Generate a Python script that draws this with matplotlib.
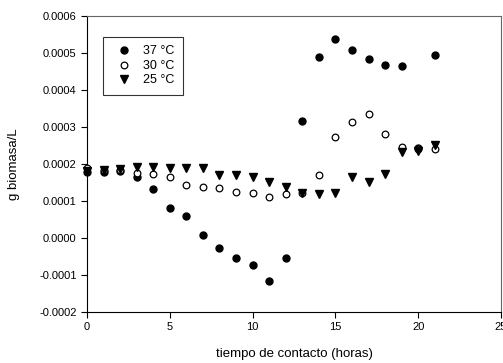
import matplotlib
matplotlib.use('Agg')
import matplotlib.pyplot as plt

plt.rcParams['font.family'] = ['Liberation Sans', 'DejaVu Sans']

# tiempo de contacto (horas)
horas = list(range(0, 22))

# g biomasa/L
t37 = [0.000179, 0.000178, 0.000181, 0.000165, 0.000132, 0.000080, 0.000059,
       0.000008, -0.000027, -0.000054, -0.000073, -0.000116, -0.000054,
       0.000316, 0.000489, 0.000538, 0.000508, 0.000484, 0.000467, 0.000465,
       0.000242, 0.000494]
t30 = [0.000189, 0.000183, 0.000185, 0.000176, 0.000173, 0.000165, 0.000143,
       0.000138, 0.000135, 0.000124, 0.000121, 0.000111, 0.000119, 0.000122,
       0.000170, 0.000273, 0.000314, 0.000335, 0.000281, 0.000246, 0.000240,
       0.000241]
t25 = [0.000180, 0.000183, 0.000186, 0.000193, 0.000193, 0.000190, 0.000188,
       0.000190, 0.000170, 0.000170, 0.000164, 0.000151, 0.000139, 0.000122,
       0.000118, 0.000122, 0.000165, 0.000151, 0.000174, 0.000233, 0.000235,
       0.000252]

fig = plt.figure(figsize=(5.03, 3.63), dpi=100)
ax = fig.add_axes([0.173, 0.1405, 0.823, 0.8155])

ax.plot(horas, t37, 'o', color='black', markersize=5, label='37 °C', clip_on=False, zorder=3)
ax.plot(horas, t30, 'o', markerfacecolor='white', markeredgecolor='black',
        markeredgewidth=0.9, markersize=4.8, label='30 °C', clip_on=False, zorder=3)
ax.plot(horas, t25, 'v', color='black', markersize=5.5, label='25 °C', clip_on=False, zorder=3)

ax.set_xlim(0, 25)
ax.set_ylim(-0.0002, 0.0006)
ax.set_xticks([0, 5, 10, 15, 20, 25])
ax.set_yticks([-0.0002, -0.0001, 0, 0.0001, 0.0002, 0.0003, 0.0004, 0.0005, 0.0006])
ax.set_yticklabels(['%.4f' % v for v in ax.get_yticks()])
ax.tick_params(direction='out', length=4, width=0.8, labelsize=8)

for s in ['top', 'right']:
    ax.spines[s].set_color('#666666')
ax.spines['left'].set_color('black')
ax.spines['bottom'].set_color('black')

ax.set_xlabel('tiempo de contacto (horas)', fontsize=9.5, labelpad=11)
ax.set_ylabel('g biomasa/L', fontsize=9.5, labelpad=14)

leg = ax.legend(loc='upper left', bbox_to_anchor=(0.038, 0.93), fontsize=9,
                frameon=True, fancybox=False, edgecolor='black', handletextpad=0.55,
                borderpad=0.7, labelspacing=0.2, handlelength=2.0, borderaxespad=0)
leg.get_frame().set_linewidth(0.8)

fig.savefig('out.png', dpi=100)
